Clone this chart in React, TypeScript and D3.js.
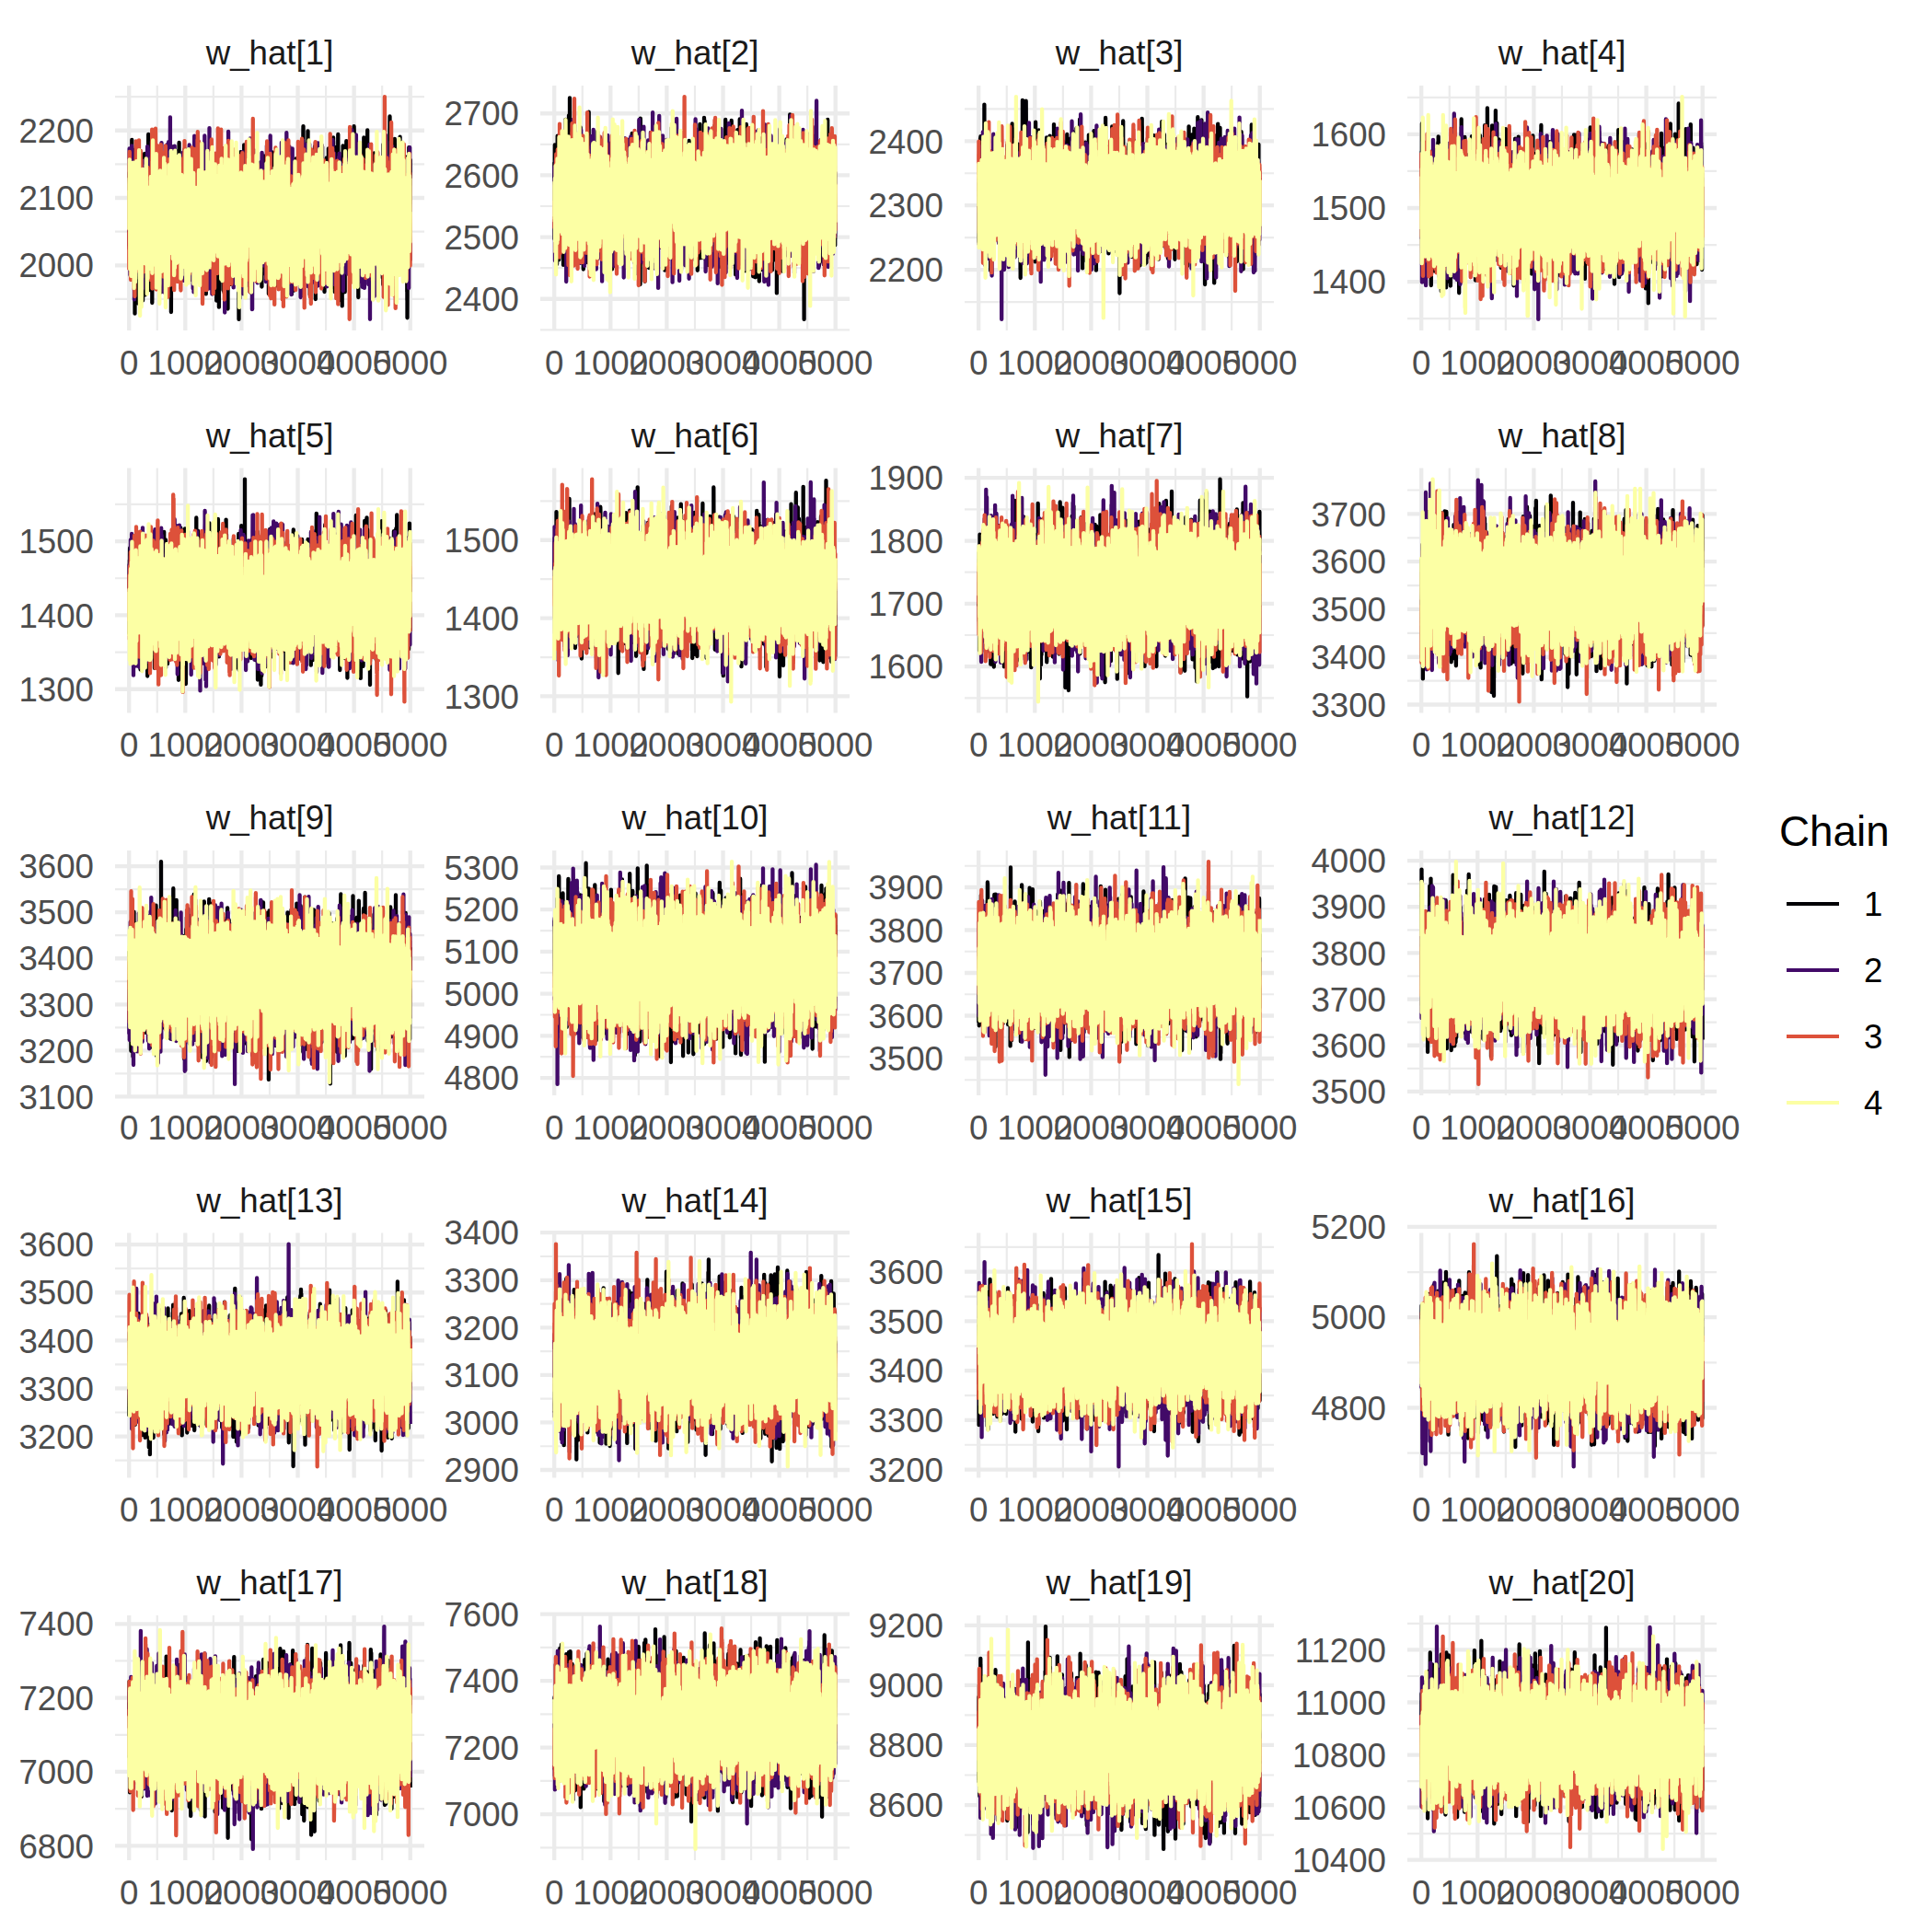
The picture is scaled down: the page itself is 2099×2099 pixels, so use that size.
import React, { useMemo } from "react";
import * as d3 from "d3";

// ---------------- data ----------------
const PARAMS = [
  "w_hat[1]", "w_hat[2]", "w_hat[3]", "w_hat[4]",
  "w_hat[5]", "w_hat[6]", "w_hat[7]", "w_hat[8]",
  "w_hat[9]", "w_hat[10]", "w_hat[11]", "w_hat[12]",
  "w_hat[13]", "w_hat[14]", "w_hat[15]", "w_hat[16]",
  "w_hat[17]", "w_hat[18]", "w_hat[19]", "w_hat[20]",
];
const CHAINS = ["1", "2", "3", "4"];
const CHAIN_COLORS = ["#000004", "#420A68", "#DD513A", "#FCFFA4"];
const N_ITER = 5000;
const X_TICKS = [0, 1000, 2000, 3000, 4000, 5000];

// lowest / highest draw visible in each trace panel
const DRAW_MIN = [
  1920, 2367, 2123, 1349,
  1283, 1293, 1544, 3306,
  3127, 4785, 3440, 3516,
  3137, 2907, 3206, 4670,
  6791, 6896, 8453, 10441,
];
const DRAW_MAX = [
  2250, 2727, 2469, 1651,
  1584, 1578, 1898, 3773,
  3610, 5314, 3960, 3998,
  3601, 3376, 3656, 5162,
  7393, 7563, 9196, 11289,
];
const Y_TICKS = [
  [2000, 2100, 2200],
  [2400, 2500, 2600, 2700],
  [2200, 2300, 2400],
  [1400, 1500, 1600],
  [1300, 1400, 1500],
  [1300, 1400, 1500],
  [1600, 1700, 1800, 1900],
  [3300, 3400, 3500, 3600, 3700],
  [3100, 3200, 3300, 3400, 3500, 3600],
  [4800, 4900, 5000, 5100, 5200, 5300],
  [3500, 3600, 3700, 3800, 3900],
  [3500, 3600, 3700, 3800, 3900, 4000],
  [3200, 3300, 3400, 3500, 3600],
  [2900, 3000, 3100, 3200, 3300, 3400],
  [3200, 3300, 3400, 3500, 3600],
  [4800, 5000, 5200],
  [6800, 7000, 7200, 7400],
  [7000, 7200, 7400, 7600],
  [8600, 8800, 9000, 9200],
  [10400, 10600, 10800, 11000, 11200],
];
// lag-1 autocorrelation of the chains (visual estimate)
const LAG1 = 0.6;

// ---------------- layout ----------------
const W = 2099;
const H = 2099;
const COL_LEFT = [125, 587, 1048, 1529];
const ROW_TOP = [93, 508.5, 924, 1339.5, 1755];
const PW = 336;
const PH = 266;
const FONT = "'Liberation Sans', Arial, Helvetica, sans-serif";
const GRID = "#EBEBEB";

function mulberry32(a: number) {
  return function () {
    a |= 0;
    a = (a + 0x6d2b79f5) | 0;
    let t = Math.imul(a ^ (a >>> 15), 1 | a);
    t = (t + Math.imul(t ^ (t >>> 7), 61 | t)) ^ t;
    return ((t ^ (t >>> 14)) >>> 0) / 4294967296;
  };
}

function makeDraws(panel: number): number[][] {
  const rnd = mulberry32(1234 + panel * 7919);
  const gauss = () => {
    let u = 0;
    while (u === 0) u = rnd();
    const v = rnd();
    return Math.sqrt(-2 * Math.log(u)) * Math.cos(2 * Math.PI * v);
  };
  const s = Math.sqrt(1 - LAG1 * LAG1);
  const raw = CHAINS.map(() => {
    const arr = new Array(N_ITER);
    let z = gauss();
    for (let i = 0; i < N_ITER; i++) {
      z = LAG1 * z + s * gauss();
      arr[i] = z;
    }
    return arr;
  });
  const lo = d3.min(raw, (c) => d3.min(c)) as number;
  const hi = d3.max(raw, (c) => d3.max(c)) as number;
  const m = d3.scaleLinear().domain([lo, hi]).range([DRAW_MIN[panel], DRAW_MAX[panel]]);
  return raw.map((c) => c.map((v) => m(v)));
}

function Panel({ idx }: { idx: number }) {
  const col = idx % 4;
  const row = Math.floor(idx / 4);
  const left = COL_LEFT[col];
  const top = ROW_TOP[row];
  const draws = useMemo(() => makeDraws(idx), [idx]);

  const xPad = 0.05 * (N_ITER - 1);
  const x = d3.scaleLinear().domain([1 - xPad, N_ITER + xPad]).range([left, left + PW]);
  const r = DRAW_MAX[idx] - DRAW_MIN[idx];
  const y = d3
    .scaleLinear()
    .domain([DRAW_MIN[idx] - 0.05 * r, DRAW_MAX[idx] + 0.05 * r])
    .range([top + PH, top]);

  const yt = Y_TICKS[idx];
  const step = yt[1] - yt[0];
  const [d0, d1] = y.domain();
  const yMinor = [yt[0] - step / 2, ...yt.map((t) => t + step / 2)].filter((v) => v >= d0 && v <= d1);
  const xMinor = X_TICKS.slice(0, -1).map((t) => t + 500);

  const line = d3
    .line<number>()
    .x((_, i) => x(i + 1))
    .y((d) => y(d))
    .digits(1);

  return (
    <g>
      {yMinor.map((v) => (
        <line key={"ym" + v} x1={left} x2={left + PW} y1={y(v)} y2={y(v)} stroke={GRID} strokeWidth={2.2} />
      ))}
      {xMinor.map((v) => (
        <line key={"xm" + v} x1={x(v)} x2={x(v)} y1={top} y2={top + PH} stroke={GRID} strokeWidth={2.2} />
      ))}
      {yt.map((v) => (
        <line key={"yM" + v} x1={left} x2={left + PW} y1={y(v)} y2={y(v)} stroke={GRID} strokeWidth={4.3} />
      ))}
      {X_TICKS.map((v) => (
        <line key={"xM" + v} x1={x(v)} x2={x(v)} y1={top} y2={top + PH} stroke={GRID} strokeWidth={4.3} />
      ))}
      {draws.map((c, ci) => (
        <path
          key={"c" + ci}
          d={line(c) || ""}
          fill="none"
          stroke={CHAIN_COLORS[ci]}
          strokeWidth={4.3}
          strokeLinejoin="round"
        />
      ))}
      {yt.map((v) => (
        <text
          key={"yl" + v}
          x={left - 23}
          y={y(v)}
          dy="0.36em"
          textAnchor="end"
          fontSize={36.7}
          fill="#4D4D4D"
          fontFamily={FONT}
        >
          {v}
        </text>
      ))}
      {X_TICKS.map((v) => (
        <text
          key={"xl" + v}
          x={x(v)}
          y={top + PH + 47.5}
          textAnchor="middle"
          fontSize={36.7}
          fill="#4D4D4D"
          fontFamily={FONT}
        >
          {v}
        </text>
      ))}
      <text
        x={left + PW / 2}
        y={top - 23}
        textAnchor="middle"
        fontSize={36.7}
        fill="#1A1A1A"
        fontFamily={FONT}
      >
        {PARAMS[idx]}
      </text>
    </g>
  );
}

export default function App() {
  return (
    <svg
      width={W}
      height={H}
      style={{ position: "absolute", left: 0, top: 0, background: "#FFFFFF" }}
      xmlns="http://www.w3.org/2000/svg"
    >
      <rect x={0} y={0} width={W} height={H} fill="#FFFFFF" />
      {PARAMS.map((_, i) => (
        <Panel key={i} idx={i} />
      ))}
      <g>
        <text x={1933} y={919} fontSize={45.8} fill="#000000" fontFamily={FONT}>
          Chain
        </text>
        {CHAINS.map((c, i) => (
          <g key={c}>
            <line x1={1941} x2={1998} y1={982 + 72 * i} y2={982 + 72 * i} stroke={CHAIN_COLORS[i]} strokeWidth={3.9} />
            <text
              x={2025}
              y={982 + 72 * i}
              dy="0.36em"
              fontSize={36.7}
              fill="#000000"
              fontFamily={FONT}
            >
              {c}
            </text>
          </g>
        ))}
      </g>
    </svg>
  );
}
